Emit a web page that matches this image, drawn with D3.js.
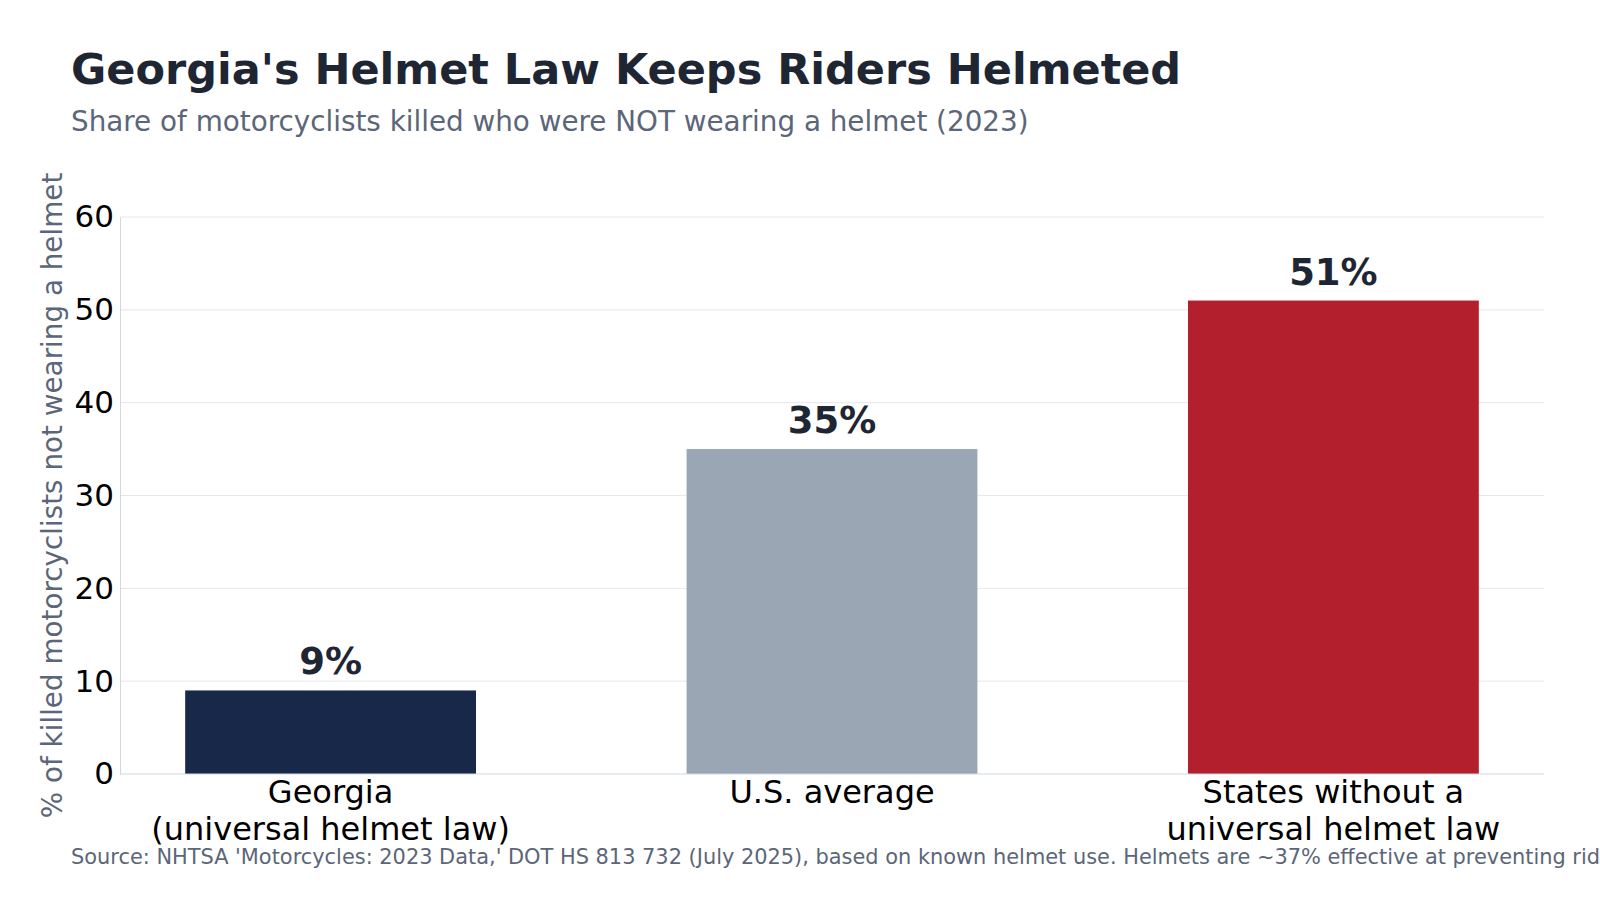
<!DOCTYPE html>
<html>
<head>
<meta charset="utf-8">
<script src="https://cdn.jsdelivr.net/npm/d3@7"></script>
<style>
  body { margin: 0; background: #fff; }
  svg { font-family: "DejaVu Sans", sans-serif; }
</style>
</head>
<body>
<div id="chart"></div>
<script>
const categories = [
    ['Georgia', '(universal helmet law)'],
    ['U.S. average'],
    ['States without a', 'universal helmet law']
]
const values = [9, 35, 51]
const barColors = ['#172849', '#9aa6b4', '#b31f2d']
const yTicks = [0, 10, 20, 30, 40, 50, 60]

const title = "Georgia's Helmet Law Keeps Riders Helmeted"
const subtitle = 'Share of motorcyclists killed who were NOT wearing a helmet (2023)'
const yLabel = '% of killed motorcyclists not wearing a helmet'
const source = "Source: NHTSA 'Motorcycles: 2023 Data,' DOT HS 813 732 (July 2025), based on known helmet use. Helmets are ~37% effective at preventing rider deaths."

const width = 1600
const height = 900
const margin = {left: 120, right: 56, top: 217, bottom: 126}

const svg = d3.select('#chart').append('svg')
    .attr('width', width)
    .attr('height', height)

svg.append('text')
    .text(title)
    .attr('x', 71)
    .attr('y', 84)
    .attr('font-size', 43)
    .attr('font-weight', 'bold')
    .attr('fill', '#1f2633')

svg.append('text')
    .text(subtitle)
    .attr('x', 71)
    .attr('y', 131)
    .attr('font-size', 27.8)
    .attr('fill', '#5b6678')

const x = d3.scaleBand()
    .domain(d3.range(values.length))
    .range([margin.left, width - margin.right])
    .paddingInner(0.42)
    .paddingOuter(0.13)

const y = d3.scaleLinear()
    .domain([0, 60])
    .range([height - margin.bottom, margin.top])

// grid
svg.append('g')
    .selectAll('line')
    .data(yTicks.slice(1))
    .enter()
    .append('line')
    .attr('x1', margin.left)
    .attr('x2', width - margin.right)
    .attr('y1', d => y(d))
    .attr('y2', d => y(d))
    .attr('stroke', '#e5e7eb')
    .attr('stroke-width', 1)

const yAxis = svg.append('g')
    .attr('transform', `translate(${margin.left}, 0)`)
    .call(d3.axisLeft(y).tickValues(yTicks).tickSize(0).tickPadding(6))
yAxis.select('.domain').attr('stroke', '#d1d7e0')
yAxis.selectAll('text')
    .attr('font-size', 31)
    .attr('font-family', 'DejaVu Sans')
    .attr('fill', '#000')

svg.append('g')
    .selectAll('rect')
    .data(values)
    .enter()
    .append('rect')
    .attr('x', (d, i) => x(i))
    .attr('width', x.bandwidth())
    .attr('y', d => y(d))
    .attr('height', d => y(0) - y(d))
    .attr('fill', (d, i) => barColors[i])

svg.append('line')
    .attr('x1', margin.left)
    .attr('x2', width - margin.right)
    .attr('y1', y(0))
    .attr('y2', y(0))
    .attr('stroke', '#d1d7e0')

svg.append('g')
    .selectAll('text')
    .data(values)
    .enter()
    .append('text')
    .text(d => `${d}%`)
    .attr('x', (d, i) => x(i) + x.bandwidth() / 2)
    .attr('y', d => y(d) - 16)
    .attr('text-anchor', 'middle')
    .attr('font-size', 37)
    .attr('font-weight', 'bold')
    .attr('fill', '#1f2633')

const xLabels = svg.append('g')
    .selectAll('text')
    .data(categories)
    .enter()
    .append('text')
    .attr('x', (d, i) => x(i) + x.bandwidth() / 2)
    .attr('y', y(0) + 29)
    .attr('text-anchor', 'middle')
    .attr('font-size', 32)
    .attr('fill', '#000')
xLabels.selectAll('tspan')
    .data((d, i) => d.map(t => ({t, i})))
    .enter()
    .append('tspan')
    .text(d => d.t)
    .attr('x', d => x(d.i) + x.bandwidth() / 2)
    .attr('dy', (d, j) => j == 0 ? 0 : 37)

svg.append('text')
    .text(yLabel)
    .attr('transform', `translate(62, ${(margin.top + y(0)) / 2}) rotate(-90)`)
    .attr('text-anchor', 'middle')
    .attr('font-size', 27.8)
    .attr('fill', '#5b6678')

// footnote runs past the right edge, as in the original
svg.append('text')
    .text(source)
    .attr('x', 71)
    .attr('y', 864)
    .attr('font-size', 20.9)
    .attr('fill', '#5b6678')
</script>
</body>
</html>
